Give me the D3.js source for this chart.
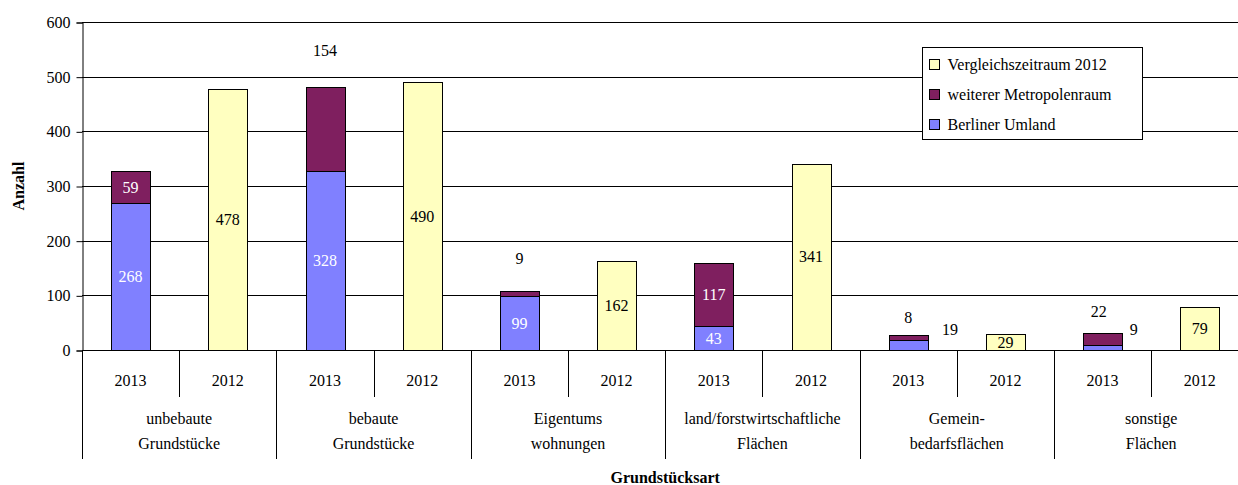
<!DOCTYPE html>
<html>
<head>
<meta charset="utf-8">
<script src="https://cdn.jsdelivr.net/npm/d3@7"></script>
<style>
  html, body { margin: 0; padding: 0; background: #fff; }
</style>
</head>
<body>
<svg id="chart" width="1238" height="485"></svg>
<script>
// ---- data ----
const groups = [
  ["unbebaute", "Grundstücke"],
  ["bebaute", "Grundstücke"],
  ["Eigentums", "wohnungen"],
  ["land/forstwirtschaftliche", "Flächen"],
  ["Gemein-", "bedarfsflächen"],
  ["sonstige", "Flächen"]
];
const years = ["2013", "2012"];
const umland2013 = [268, 328, 99, 43, 19, 9];
const metro2013 = [59, 154, 9, 117, 8, 22];
const vergleich2012 = [478, 490, 162, 341, 29, 79];
const yTicks = [0, 100, 200, 300, 400, 500, 600];
const seriesNames = ["Vergleichszeitraum 2012", "weiterer Metropolenraum", "Berliner Umland"];

// manually moved labels (as in reference): key "series-group" -> {dx: fraction of slot, v: value position}
const labelMoves = {
  "metro-1": { dx: 0, v: 548 },
  "metro-2": { dx: 0, v: 168 },
  "metro-4": { dx: 0, v: 60 },
  "umland-4": { dx: 0.43, v: 37 },
  "metro-5": { dx: -0.04, v: 71 },
  "umland-5": { dx: 0.32, v: 37 }
};

const colors = { umland: "#8080FF", metro: "#7F1F5F", vergleich: "#FFFFC0" };
const FONT = "'Liberation Serif', 'Noto Serif', 'DejaVu Serif', Tinos, 'Nimbus Roman', 'Nimbus Roman No9 L', FreeSerif, 'Times New Roman', Times, serif";

// ---- layout ----
const svg = d3.select("#chart").attr("font-family", FONT).style("font-family", FONT);
const mLeft = 82, mTop = 22, mBottom = 350;
const slotCount = groups.length * years.length;
const slotW = 97.2;
const mRight = mLeft + slotCount * slotW;

const slots = [];
groups.forEach((g, gi) => years.forEach((yr, yi) => slots.push(gi + "-" + yi)));

const x = d3.scaleBand().domain(slots).range([mLeft, mRight]).padding(0);
const y = d3.scaleLinear().domain([0, 600]).range([mBottom, mTop]);
const barW = x.bandwidth() * 0.4;

// gridlines
svg.append("g").selectAll("line").data(yTicks.filter(d => d > 0)).join("line")
  .attr("x1", mLeft).attr("x2", mRight)
  .attr("y1", d => Math.round(y(d)) + 0.5).attr("y2", d => Math.round(y(d)) + 0.5)
  .attr("stroke", "#000").attr("stroke-width", 1);

// y axis
const yAxis = d3.axisLeft(y).tickValues(yTicks).tickSize(6).tickPadding(6);
const ya = svg.append("g").attr("transform", `translate(${mLeft + 0.5},0.5)`).call(yAxis)
  .attr("font-family", FONT).attr("font-size", 16);
ya.select(".domain").attr("stroke", "#000");
ya.selectAll(".tick line").attr("stroke", "#000");
ya.selectAll(".tick text").attr("fill", "#000");

// bars
const stacks = [];
groups.forEach((g, gi) => {
  const k13 = gi + "-0", k12 = gi + "-1";
  stacks.push({ key: k13, s: "umland", gi, y0: 0, y1: umland2013[gi], v: umland2013[gi] });
  stacks.push({ key: k13, s: "metro", gi, y0: umland2013[gi], y1: umland2013[gi] + metro2013[gi], v: metro2013[gi] });
  stacks.push({ key: k12, s: "vergleich", gi, y0: 0, y1: vergleich2012[gi], v: vergleich2012[gi] });
});

svg.append("g").selectAll("rect").data(stacks).join("rect")
  .attr("x", d => Math.round(x(d.key) + (x.bandwidth() - barW) / 2) + 0.5)
  .attr("width", Math.round(barW))
  .attr("y", d => Math.round(y(d.y1)) + 0.5)
  .attr("height", d => Math.round(y(d.y0)) - Math.round(y(d.y1)))
  .attr("fill", d => colors[d.s])
  .attr("stroke", "#000").attr("stroke-width", 1);

// x axis baseline
svg.append("line").attr("x1", mLeft).attr("x2", mRight)
  .attr("y1", mBottom + 0.5).attr("y2", mBottom + 0.5).attr("stroke", "#000");

// value labels
svg.append("g").selectAll("text").data(stacks).join("text")
  .attr("x", d => {
    const m = labelMoves[d.s + "-" + d.gi];
    return x(d.key) + x.bandwidth() / 2 + (m ? m.dx * x.bandwidth() : 0);
  })
  .attr("y", d => {
    const m = labelMoves[d.s + "-" + d.gi];
    return y(m ? m.v : (d.y0 + d.y1) / 2);
  })
  .attr("dy", "0.35em")
  .attr("text-anchor", "middle")
  .attr("font-size", 16)
  .attr("fill", d => (labelMoves[d.s + "-" + d.gi] || d.s === "vergleich") ? "#000" : "#fff")
  .text(d => d.v);

// category axis: year dividers and labels
const axisG = svg.append("g");
slots.forEach((k, i) => {
  const xi = x(k);
  const isGroupStart = i % 2 === 0;
  axisG.append("line")
    .attr("x1", Math.round(xi) + 0.5).attr("x2", Math.round(xi) + 0.5)
    .attr("y1", mBottom).attr("y2", isGroupStart ? 459 : 397)
    .attr("stroke", "#000");
  axisG.append("text")
    .attr("x", xi + x.bandwidth() / 2).attr("y", 386)
    .attr("text-anchor", "middle").attr("font-size", 16)
    .text(years[i % 2]);
});
groups.forEach((g, gi) => {
  const cx = x(gi + "-0") + x.bandwidth();
  g.forEach((line, li) => {
    axisG.append("text")
      .attr("x", cx).attr("y", 424 + li * 25)
      .attr("text-anchor", "middle").attr("font-size", 16)
      .text(line);
  });
});

// axis titles
svg.append("text")
  .attr("x", (mLeft + mRight) / 2).attr("y", 483)
  .attr("text-anchor", "middle").attr("font-size", 16).attr("font-weight", "bold")
  .text("Grundstücksart");
svg.append("text")
  .attr("transform", `translate(24,${(mTop + mBottom) / 2}) rotate(-90)`)
  .attr("text-anchor", "middle").attr("font-size", 16).attr("font-weight", "bold")
  .text("Anzahl");

// legend
const lg = svg.append("g").attr("transform", "translate(922.5,47.5)");
lg.append("rect").attr("width", 220).attr("height", 92).attr("fill", "#fff").attr("stroke", "#000");
const legendKeys = ["vergleich", "metro", "umland"];
seriesNames.forEach((name, i) => {
  const row = lg.append("g").attr("transform", `translate(7,${12 + i * 30})`);
  row.append("rect").attr("width", 10).attr("height", 10)
    .attr("fill", colors[legendKeys[i]]).attr("stroke", "#000");
  row.append("text").attr("x", 18).attr("y", 5).attr("dy", "0.35em")
    .attr("font-size", 16).text(name);
});
</script>
</body>
</html>
